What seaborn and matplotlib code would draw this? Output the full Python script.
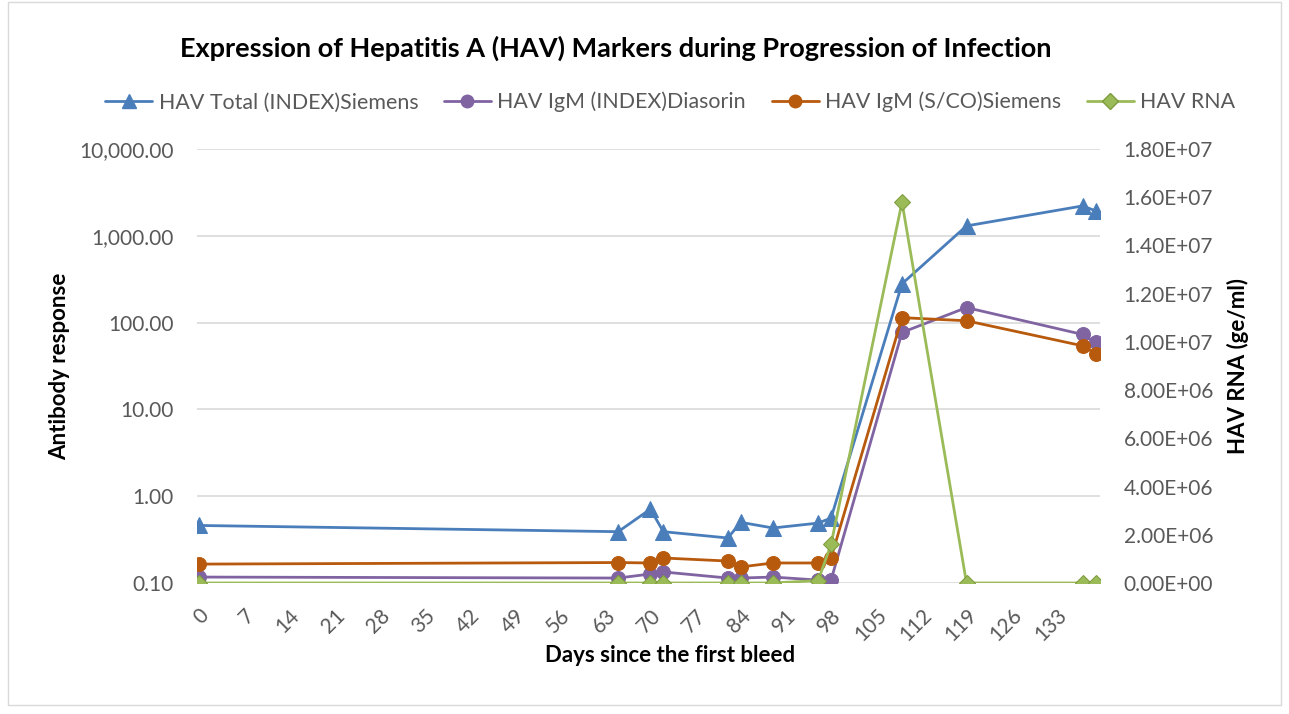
import numpy as np
import pandas as pd
import matplotlib
matplotlib.use("Agg")
import matplotlib.pyplot as plt
import matplotlib.ticker as mticker
from matplotlib.lines import Line2D
import seaborn as sns

# data
days = [0, 65, 70, 72, 82, 84, 89, 96, 98, 109, 119, 137, 139]
hav_total = [0.46, 0.39, 0.71, 0.39, 0.33, 0.50, 0.43, 0.49, 0.56, 280, 1300, 2210, 1940]
igm_diasorin = [0.117, 0.114, 0.127, 0.134, 0.114, 0.114, 0.117, 0.108, 0.108, 77, 149, 73, 59]
igm_siemens = [0.165, 0.172, 0.170, 0.194, 0.179, 0.153, 0.170, 0.170, 0.194, 114, 105, 54, 44]
hav_rna = [0, 0, 0, 0, 0, 0, 0, 1.0e5, 1.6e6, 1.58e7, 0, 0, 0]

x_ticks = list(range(0, 134, 7))
left_ticks = [0.1, 1, 10, 100, 1000, 10000]
right_ticks = list(np.arange(0, 1.8e7 + 1, 2e6))

series = [
    ("HAV Total (INDEX)Siemens", hav_total, "#4A7EBB", "^", 11),
    ("HAV IgM (INDEX)Diasorin", igm_diasorin, "#8064A2", "o", 10),
    ("HAV IgM (S/CO)Siemens", igm_siemens, "#B85A0D", "o", 10),
]
rna_color = "#9BBB59"

sns.set_style("white")
plt.rcParams['font.family'] = ['Lato', 'DejaVu Sans']
gray = "#595959"

fig = plt.figure(figsize=(12.89, 7.14), dpi=100)
ax = fig.add_axes([0.1528, 0.1835, 0.8534 - 0.1528, 0.7913 - 0.1835])
ax2 = ax.twinx()

handles = []
for name, vals, col, mk, ms in series:
    df = pd.DataFrame({"day": days, "val": vals})
    sns.lineplot(data=df, x="day", y="val", ax=ax, color=col, marker=mk,
                 markersize=ms, markeredgecolor=col, linewidth=2, zorder=3)
    handles.append(Line2D([0], [0], color=col, marker=mk, markersize=ms - 1,
                          markeredgecolor=col, linewidth=2, label=name))

df_rna = pd.DataFrame({"day": days, "val": hav_rna})
sns.lineplot(data=df_rna, x="day", y="val", ax=ax2, color=rna_color, marker="D",
             markersize=8, markeredgecolor="#7E9C3E", linewidth=2, zorder=3)
handles.append(Line2D([0], [0], color=rna_color, marker="D", markersize=8,
                      markeredgecolor="#7E9C3E", linewidth=2, label="HAV RNA"))

# left axis (log)
ax.set_yscale("log")
ax.set_ylim(0.1, 10000)
ax.set_yticks(left_ticks)
ax.yaxis.set_major_formatter(mticker.FuncFormatter(lambda v, p: f"{v:,.2f}"))
ax.yaxis.set_minor_locator(mticker.NullLocator())
ax.grid(axis="y", color="#d9d9d9", linewidth=1.2)
ax.set_xlim(-0.3, 139.7)
ax.set_xticks(x_ticks)
ax.set_xticklabels([str(t) for t in x_ticks], rotation=45, ha="right", va="top",
                   rotation_mode="anchor")

# right axis (linear)
ax2.set_ylim(0, 1.8e7)
ax2.set_yticks(right_ticks)
ax2.yaxis.set_major_formatter(mticker.FuncFormatter(lambda v, p: "%.2E" % v))

for a in (ax, ax2):
    for s in a.spines.values():
        s.set_visible(False)
    a.tick_params(axis="both", length=0, labelsize=15, labelcolor=gray, pad=17)
ax.tick_params(axis="x", pad=16)

ax.set_xlabel("Days since the first bleed", fontsize=16, fontweight="bold", color="black")
ax.set_ylabel("Antibody response", fontsize=16, fontweight="bold", color="black")
ax2.set_ylabel("HAV RNA (ge/ml)", fontsize=16, fontweight="bold", color="black")
ax.xaxis.set_label_coords(0.524, -0.143)
ax.yaxis.set_label_coords(-0.141, 0.5)
ax2.yaxis.set_label_coords(1.141, 0.5)

fig.text(0.478, 0.932, "Expression of Hepatitis A (HAV) Markers during Progression of Infection",
         ha="center", va="center", fontsize=19.5, fontweight="bold", color="black")

fig.legend(handles=handles, loc="center", bbox_to_anchor=(0.52, 0.857), ncol=4,
           frameon=False, fontsize=15.4, labelcolor=gray, handlelength=2.2,
           columnspacing=1.2, handletextpad=0.3)

# chart border
fig.patches.append(plt.Rectangle((0.006, 0.012), 0.988, 0.985, transform=fig.transFigure,
                                 fill=False, edgecolor="#d9d9d9", linewidth=1))

fig.savefig("out.png", dpi=100)
